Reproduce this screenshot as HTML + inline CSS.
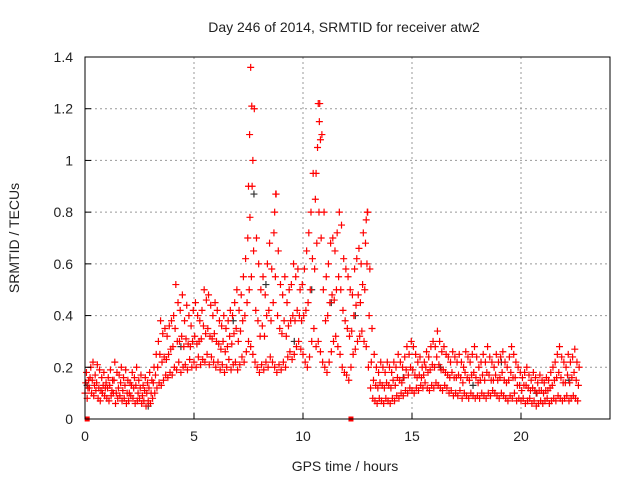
<!DOCTYPE html>
<html><head><meta charset="utf-8"><style>
body{margin:0;background:#fff}
svg text{font-family:"Liberation Sans",sans-serif;font-size:14px;fill:#222}
</style></head><body>
<svg id="chart" width="640" height="480" xmlns="http://www.w3.org/2000/svg">
<rect x="0" y="0" width="640" height="480" fill="#fff"/>
<g id="grid"></g><g id="pts"></g><g id="axes"></g>
<text x="344" y="32" text-anchor="middle">Day 246 of 2014, SRMTID for receiver atw2</text>
<text x="345" y="471" text-anchor="middle">GPS time / hours</text>
<text transform="translate(19,238) rotate(-90)" text-anchor="middle">SRMTID / TECUs</text>
</svg>
<script>
const xTicks=[0,5,10,15,20];
const yTicks=[0,0.2,0.4,0.6,0.8,1,1.2,1.4];
const yTickLabels=["0","0.2","0.4","0.6","0.8","1","1.2","1.4"];
const step=0.1;
const lowVals=[.10,.08,.12,.10,.09,.11,.08,.07,.10,.09,.08,.07,.09,.10,.06,.08,.09,.07,.08,.06,.07,.09,.08,.06,.07,.08,.06,.07,.05,.07,.06,.08,.10,.12,.14,.13,.15,.17,.16,.18,.17,.20,.19,.22,.18,.20,.21,.19,.23,.20,.22,.20,.24,.21,.23,.22,.25,.21,.24,.22,.20,.22,.19,.21,.18,.20,.23,.19,.21,.22,.19,.21,.24,.22,.26,.30,.28,.25,.22,.20,.18,.21,.19,.22,.20,.24,.22,.20,.18,.21,.19,.22,.20,.24,.26,.23,.25,.28,.30,.27,.25,.22,.20,.24,.30,.35,.28,.30,.26,.22,.20,.18,.22,.26,.30,.32,.28,.25,.20,.18,.17,.15,.20,.25,.27,.30,.32,.34,.30,.28,.20,.12,.08,.07,.06,.08,.07,.06,.08,.07,.06,.08,.07,.09,.08,.10,.09,.11,.10,.12,.11,.10,.12,.11,.13,.12,.14,.12,.11,.13,.12,.14,.13,.12,.11,.13,.12,.10,.11,.09,.10,.09,.11,.08,.10,.09,.08,.10,.09,.08,.09,.08,.10,.09,.08,.10,.09,.11,.10,.09,.08,.10,.09,.08,.07,.09,.08,.10,.07,.08,.07,.08,.06,.07,.08,.06,.07,.05,.06,.07,.06,.07,.08,.06,.07,.08,.07,.09,.08,.07,.08,.09,.07,.08,.09,.08,.07];
const midVals=[.14,.12,.16,.15,.13,.14,.12,.11,.13,.12,.12,.13,.11,.15,.10,.12,.14,.11,.13,.10,.10,.13,.12,.13,.10,.12,.09,.11,.10,.12,.10,.14,.17,.20,.25,.22,.24,.23,.25,.27,.28,.35,.30,.30,.32,.28,.31,.29,.28,.30,.32,.29,.30,.31,.36,.33,.35,.32,.31,.33,.30,.29,.27,.30,.26,.28,.32,.29,.33,.35,.30,.34,.38,.40,.45,.50,.55,.65,.42,.38,.32,.36,.32,.40,.42,.38,.45,.55,.40,.35,.33,.38,.32,.36,.38,.40,.38,.42,.40,.38,.40,.42,.45,.50,.62,.58,.68,.80,.70,.50,.38,.40,.45,.48,.46,.50,.55,.50,.42,.38,.35,.32,.34,.40,.44,.48,.45,.52,.50,.60,.40,.22,.15,.13,.12,.14,.13,.12,.14,.13,.12,.15,.13,.16,.15,.14,.16,.19,.17,.20,.19,.17,.16,.17,.16,.17,.20,.18,.19,.21,.20,.24,.21,.19,.19,.18,.17,.16,.18,.16,.16,.17,.16,.14,.18,.16,.15,.17,.18,.16,.14,.15,.17,.15,.18,.17,.15,.15,.17,.15,.16,.18,.15,.14,.15,.18,.16,.16,.13,.13,.11,.13,.13,.12,.11,.12,.11,.10,.11,.11,.10,.11,.11,.12,.13,.15,.16,.18,.16,.14,.14,.17,.14,.16,.18,.15,.13];
const highVals=[.18,.15,.20,.22,.17,.21,.19,.16,.18,.14,.16,.19,.15,.22,.18,.17,.20,.16,.19,.15,.14,.18,.16,.20,.15,.17,.13,.16,.14,.18,.15,.20,.25,.30,.38,.33,.35,.32,.36,.38,.40,.52,.45,.42,.48,.38,.44,.40,.36,.42,.45,.40,.38,.42,.50,.46,.48,.44,.40,.45,.42,.38,.36,.40,.35,.38,.42,.40,.45,.50,.42,.48,.55,.62,.70,.78,.90,1.20,.70,.60,.50,.55,.48,.60,.68,.58,.72,.87,.65,.52,.48,.55,.45,.50,.52,.60,.55,.58,.50,.52,.58,.65,.72,.80,.95,.85,1.05,1.22,1.10,.80,.55,.60,.68,.70,.65,.72,.80,.75,.62,.58,.55,.50,.48,.58,.62,.66,.60,.72,.68,.80,.58,.35,.25,.20,.18,.22,.20,.18,.22,.20,.18,.22,.20,.25,.22,.20,.24,.28,.25,.30,.28,.25,.22,.24,.20,.22,.26,.24,.28,.30,.28,.34,.30,.26,.28,.25,.24,.22,.26,.24,.22,.25,.22,.20,.26,.24,.22,.25,.28,.24,.20,.22,.25,.22,.28,.24,.22,.20,.25,.22,.24,.26,.22,.20,.24,.28,.25,.22,.20,.18,.16,.18,.20,.17,.15,.18,.16,.14,.17,.15,.14,.16,.15,.18,.20,.22,.25,.28,.24,.22,.20,.25,.22,.24,.27,.22,.20];
const spikeTimes=[7.6,7.65,7.55,7.7,7.5,10.7,10.75,10.8,10.6,8.75,8.7,12.95,12.9];
const spikeVals=[1.36,1.21,1.1,1.0,0.9,1.22,1.15,1.08,0.95,0.87,0.8,0.8,0.77];
const blackTimes=[0.1,2.9,4.4,6.8,7.75,8.3,9.6,10.4,11.3,12.4,14.6,16.3,17.8,19.1,20.7,22.2];
const blackVals=[0.13,0.05,0.28,0.38,0.87,0.52,0.3,0.5,0.45,0.4,0.16,0.2,0.13,0.22,0.1,0.15];
const baseTimes=[0.1,12.2];

const X0=85,X1=610,Y0=419,Y1=57;
const xs=t=>X0+t*(521-85)/20;
const ys=v=>Y0-v*(Y0-Y1)/1.4;
const NS="http://www.w3.org/2000/svg";
function mk(tag,attrs,parent){const e=document.createElementNS(NS,tag);for(const k in attrs)e.setAttribute(k,attrs[k]);parent.appendChild(e);return e;}
const grid=document.getElementById('grid'),axes=document.getElementById('axes'),pts=document.getElementById('pts');
xTicks.forEach(t=>{
  if(t>0){const g=mk('line',{x1:xs(t),x2:xs(t),y1:Y0,y2:Y1,stroke:'#999','stroke-dasharray':'2,3','stroke-width':1},grid);
  
  }
  const tk=mk('line',{x1:xs(t),x2:xs(t),y1:Y0,y2:Y0-6,stroke:'#000'},axes);
  
  
  const l=mk('text',{x:xs(t),y:Y0+22,'text-anchor':'middle'},axes);l.textContent=t;
  
  
});
yTicks.forEach((v,i)=>{
  if(v>0&&v<1.4){const g=mk('line',{x1:X0,x2:X1,y1:ys(v),y2:ys(v),stroke:'#999','stroke-dasharray':'2,3'},grid);
  
  }
  const tk=mk('line',{x1:X0,x2:X0+6,y1:ys(v),y2:ys(v),stroke:'#000'},axes);
  
  
  const l=mk('text',{x:X0-12,y:ys(v)+5,'text-anchor':'end'},axes);l.textContent=yTickLabels[i];
  
  
});
const frame=mk('rect',{x:X0,y:Y1,width:X1-X0,height:Y0-Y1,fill:'none',stroke:'#000'},axes);


function plus(t,v,col,name){
  const x=xs(t),y=ys(v);
  const p=mk('path',{d:`M${x-3.5},${y}H${x+3.5}M${x},${y-3.5}V${y+3.5}`,stroke:col,'stroke-width':1.2,fill:'none'},pts);
  
  
}
blackVals.forEach((v,i)=>plus(blackTimes[i],v,'#333','black-point'));
lowVals.forEach((v,i)=>plus(i*step,v,'#f00','red-point-low'));
midVals.forEach((v,i)=>plus(i*step+step/3,v,'#f00','red-point-mid'));
highVals.forEach((v,i)=>plus(i*step+2*step/3,v,'#f00','red-point-high'));
spikeVals.forEach((v,i)=>plus(spikeTimes[i],v,'#f00','red-point-spike'));
baseTimes.forEach(t=>{const r=mk('rect',{x:xs(t)-2.5,y:Y0-2.5,width:5,height:5,fill:'#f00'},pts);
  
  });
</script>
</body></html>
